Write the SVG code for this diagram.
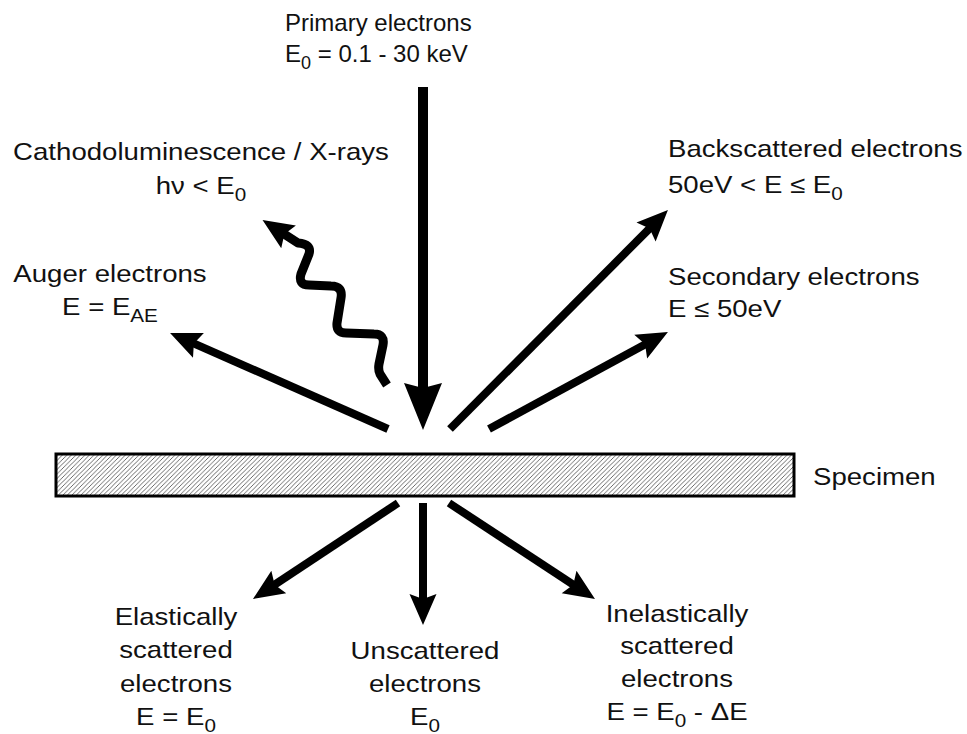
<svg xmlns="http://www.w3.org/2000/svg" width="967" height="734" viewBox="0 0 967 734">
<style>
  text { font-family: "Liberation Sans", Arial, sans-serif; font-size: 24px; fill: #111; }
  .mid { text-anchor: middle; }
  .sub { font-size: 18px; }
  .conn { stroke: #000; fill: none; stroke-linecap: butt; }
  .thin { stroke-width: 8; }
</style>
<defs>
  <pattern id="hatch" patternUnits="userSpaceOnUse" width="4.5" height="4.5">
    <rect width="4.5" height="4.5" fill="#fff"/>
    <path d="M-1,1 l2,-2 M0,4.5 l4.5,-4.5 M3.5,5.5 l2,-2" stroke="#5a5a5a" stroke-width="0.9"/>
  </pattern>
  <marker id="ah" markerUnits="userSpaceOnUse" orient="auto" overflow="visible" markerWidth="1" markerHeight="1" refX="0" refY="0">
    <path d="M22,0 L-9,-13.5 L-4,0 L-9,13.5 Z" fill="#000"/>
  </marker>
  <marker id="ahBig" markerUnits="userSpaceOnUse" orient="auto" overflow="visible" markerWidth="1" markerHeight="1" refX="0" refY="0">
    <path d="M32,0 L-15,-19 L-10,0 L-15,19 Z" fill="#000"/>
  </marker>
</defs>
<rect width="967" height="734" fill="#fff"/>

<g id="specimen">
  <rect x="56" y="454" width="738" height="42" fill="url(#hatch)" stroke="#000" stroke-width="3"/>
  <text x="0" y="485" transform="translate(813,0) scale(1.15,1)">Specimen</text>
</g>

<g id="primary">
  <text x="285" y="31">Primary electrons</text>
  <text x="285" y="62">E<tspan class="sub" dy="7">0</tspan><tspan dy="-7"> = 0.1 - 30 keV</tspan></text>
</g>

<g id="cathodo">
  <g transform="translate(201,0) scale(1.15,1)">
    <text class="mid" x="0" y="160">Cathodoluminescence / X-rays</text>
    <text class="mid" x="0" y="194">hν &lt; E<tspan class="sub" dy="7">0</tspan></text>
  </g>
</g>

<g id="auger">
  <g transform="translate(110,0) scale(1.15,1)">
    <text class="mid" x="0" y="282">Auger electrons</text>
    <text class="mid" x="0" y="315">E = E<tspan class="sub" dy="7">AE</tspan></text>
  </g>
</g>

<g id="backscattered">
  <g transform="translate(668,0) scale(1.15,1)">
    <text x="0" y="157">Backscattered electrons</text>
    <text x="0" y="193">50eV &lt; E ≤ E<tspan class="sub" dy="7">0</tspan></text>
  </g>
</g>

<g id="secondary">
  <g transform="translate(668,0) scale(1.15,1)">
    <text x="0" y="285">Secondary electrons</text>
    <text x="0" y="317">E ≤ 50eV</text>
  </g>
</g>

<g id="elastic">
  <g transform="translate(176,0) scale(1.15,1)">
    <text class="mid" x="0" y="625">Elastically</text>
    <text class="mid" x="0" y="658">scattered</text>
    <text class="mid" x="0" y="692">electrons</text>
    <text class="mid" x="0" y="725">E = E<tspan class="sub" dy="7">0</tspan></text>
  </g>
</g>

<g id="unscattered">
  <g transform="translate(425,0) scale(1.15,1)">
    <text class="mid" x="0" y="659">Unscattered</text>
    <text class="mid" x="0" y="692">electrons</text>
    <text class="mid" x="0" y="725">E<tspan class="sub" dy="7">0</tspan></text>
  </g>
</g>

<g id="inelastic">
  <g transform="translate(677,0) scale(1.15,1)">
    <text class="mid" x="0" y="622">Inelastically</text>
    <text class="mid" x="0" y="654">scattered</text>
    <text class="mid" x="0" y="687">electrons</text>
    <text class="mid" x="0" y="720">E = E<tspan class="sub" dy="7">0</tspan><tspan dy="-7"> - ΔE</tspan></text>
  </g>
</g>

<g id="connectors">
  <line class="conn" x1="423" y1="87" x2="423" y2="398" stroke-width="10" marker-end="url(#ahBig)"/>
  <line class="conn thin" x1="388" y1="429" x2="190.2" y2="341.8" marker-end="url(#ah)"/>
  <line class="conn thin" x1="450" y1="429" x2="652.4" y2="225.6" marker-end="url(#ah)"/>
  <line class="conn thin" x1="489" y1="429" x2="648.6" y2="342.4" marker-end="url(#ah)"/>
  <line class="conn thin" x1="398" y1="503" x2="271.3" y2="586.9" marker-end="url(#ah)"/>
  <line class="conn thin" x1="423" y1="503" x2="423" y2="603" marker-end="url(#ah)"/>
  <line class="conn thin" x1="449" y1="503" x2="576.6" y2="586.9" marker-end="url(#ah)"/>
  <path class="conn" stroke-width="9" stroke-linejoin="round" d="M387,385 L380,374 Q378,370 379,364 L383,345 Q385,334 374,334 L346,333 Q336,333 337,323 L341,298 Q343,286 331,286 L309,285 Q298,285 301,274 L309,254 Q312,244 298,243 L281,232" marker-end="url(#ah)"/>
</g>
</svg>
